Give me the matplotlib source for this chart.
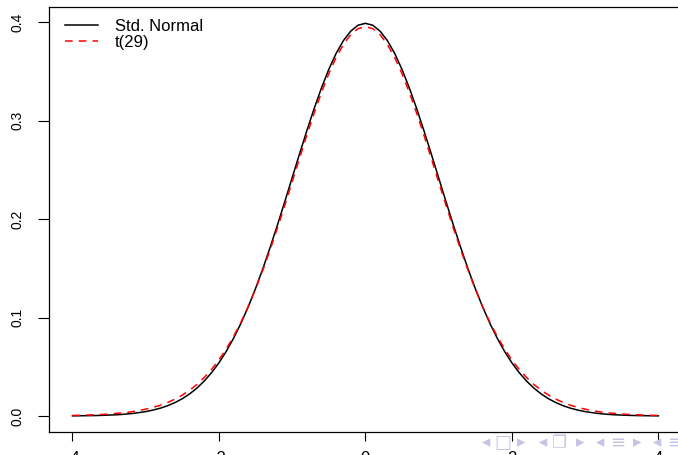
import matplotlib
matplotlib.use("Agg")
import matplotlib.pyplot as plt

plt.rcParams['font.family'] = ['Liberation Sans', 'DejaVu Sans']

# density values, x from -4 to 4 in steps of 0.1
x = [-4.0, -3.9, -3.8, -3.7, -3.6, -3.5, -3.4, -3.3, -3.2, -3.1,
     -3.0, -2.9, -2.8, -2.7, -2.6, -2.5, -2.4, -2.3, -2.2, -2.1,
     -2.0, -1.9, -1.8, -1.7, -1.6, -1.5, -1.4, -1.3, -1.2, -1.1,
     -1.0, -0.9, -0.8, -0.7, -0.6, -0.5, -0.4, -0.3, -0.2, -0.1,
     0.0, 0.1, 0.2, 0.3, 0.4, 0.5, 0.6, 0.7, 0.8, 0.9,
     1.0, 1.1, 1.2, 1.3, 1.4, 1.5, 1.6, 1.7, 1.8, 1.9,
     2.0, 2.1, 2.2, 2.3, 2.4, 2.5, 2.6, 2.7, 2.8, 2.9,
     3.0, 3.1, 3.2, 3.3, 3.4, 3.5, 3.6, 3.7, 3.8, 3.9, 4.0]

std_normal = [0.0001, 0.0002, 0.0003, 0.0004, 0.0006, 0.0009, 0.0012, 0.0017, 0.0024, 0.0033,
              0.0044, 0.0060, 0.0079, 0.0104, 0.0136, 0.0175, 0.0224, 0.0283, 0.0355, 0.0440,
              0.0540, 0.0656, 0.0790, 0.0940, 0.1109, 0.1295, 0.1497, 0.1714, 0.1942, 0.2179,
              0.2420, 0.2661, 0.2897, 0.3123, 0.3332, 0.3521, 0.3683, 0.3814, 0.3910, 0.3970,
              0.3989, 0.3970, 0.3910, 0.3814, 0.3683, 0.3521, 0.3332, 0.3123, 0.2897, 0.2661,
              0.2420, 0.2179, 0.1942, 0.1714, 0.1497, 0.1295, 0.1109, 0.0940, 0.0790, 0.0656,
              0.0540, 0.0440, 0.0355, 0.0283, 0.0224, 0.0175, 0.0136, 0.0104, 0.0079, 0.0060,
              0.0044, 0.0033, 0.0024, 0.0017, 0.0012, 0.0009, 0.0006, 0.0004, 0.0003, 0.0002, 0.0001]

t29 = [0.0005, 0.0007, 0.0009, 0.0012, 0.0015, 0.0020, 0.0026, 0.0033, 0.0042, 0.0054,
       0.0069, 0.0087, 0.0109, 0.0137, 0.0171, 0.0212, 0.0261, 0.0320, 0.0391, 0.0473,
       0.0569, 0.0681, 0.0808, 0.0951, 0.1112, 0.1289, 0.1483, 0.1691, 0.1912, 0.2142,
       0.2378, 0.2616, 0.2851, 0.3076, 0.3287, 0.3477, 0.3642, 0.3775, 0.3874, 0.3935,
       0.3955, 0.3935, 0.3874, 0.3775, 0.3642, 0.3477, 0.3287, 0.3076, 0.2851, 0.2616,
       0.2378, 0.2142, 0.1912, 0.1691, 0.1483, 0.1289, 0.1112, 0.0951, 0.0808, 0.0681,
       0.0569, 0.0473, 0.0391, 0.0320, 0.0261, 0.0212, 0.0171, 0.0137, 0.0109, 0.0087,
       0.0069, 0.0054, 0.0042, 0.0033, 0.0026, 0.0020, 0.0015, 0.0012, 0.0009, 0.0007, 0.0005]

xticks = [-4, -2, 0, 2, 4]
yticks = [0.0, 0.1, 0.2, 0.3, 0.4]
ytick_labels = ["0.0", "0.1", "0.2", "0.3", "0.4"]

W, H = 678, 455
fig = plt.figure(figsize=(W / 100, H / 100), dpi=100)
ax = fig.add_axes([49 / W, 23 / H, 632.8 / W, 424.7 / H])

ax.plot(x, std_normal, color='black', lw=1.1, label='Std. Normal')
ax.plot(x, t29, color='red', lw=1.1, dashes=(5, 4), label='t(29)')

ax.set_xlim(-4.32, 4.32)
ax.set_ylim(-0.0163, 0.4152)
ax.set_xticks(xticks)
ax.set_xticklabels([str(v) for v in xticks])
ax.set_yticks(yticks)
ax.set_yticklabels(ytick_labels, rotation=90, va='center')
ax.tick_params(axis='x', length=6.5, width=0.8, pad=7, labelsize=12)
ax.tick_params(axis='y', length=8, width=0.8, pad=10, labelsize=10)
for s in ax.spines.values():
    s.set_linewidth(0.9)

ax.legend(loc='upper left', bbox_to_anchor=(0.0253, 0.9724), frameon=False,
          fontsize=12, handlelength=1.98, handletextpad=1.0,
          labelspacing=0.07, borderaxespad=0, borderpad=0)

# beamer navigation symbols in the lower right corner
nav = [(486, '◂', 12), (503, '□', 13), (521, '▸', 12), (543, '◂', 12), (558, '❐', 12),
       (580, '▸', 12), (600, '◂', 12), (618, '≡', 13), (637, '▸', 12), (657, '◂', 12),
       (675, '≡', 13)]
for px, sym, fs in nav:
    fig.text(px / W, 1 - 442.5 / H, sym, color='#c4c4e4', fontsize=fs,
             ha='center', va='center', family='DejaVu Sans')

fig.savefig('out.png', dpi=100)
